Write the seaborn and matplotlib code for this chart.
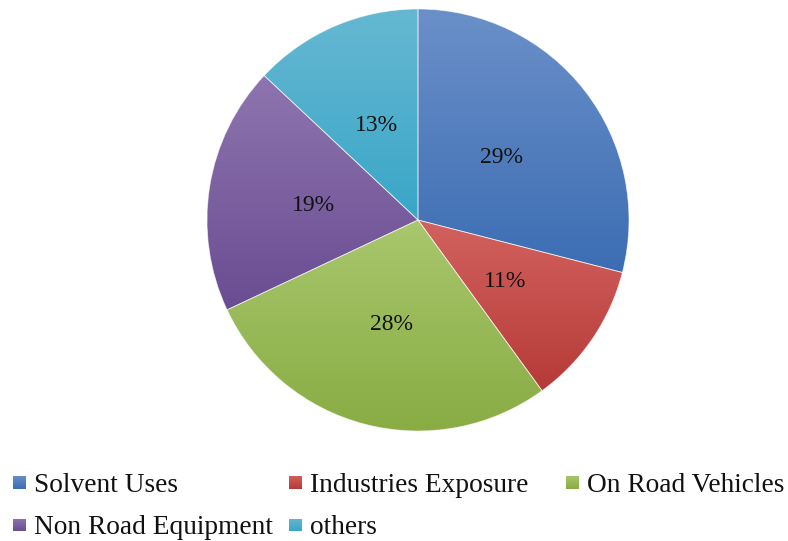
import numpy as np
import matplotlib
matplotlib.use("Agg")
import matplotlib.pyplot as plt
from matplotlib.colors import LinearSegmentedColormap
import seaborn as sns

categories = ["Solvent Uses", "Industries Exposure", "On Road Vehicles",
              "Non Road Equipment", "others"]
shares = [29, 11, 28, 19, 13]
top_colors = ["#6b90c9", "#d2625f", "#a9c76d", "#8e75af", "#66b8d2"]
bottom_colors = ["#3c6db3", "#b63a37", "#89ac44", "#6a4c92", "#39a6c8"]

sns.set_theme(style="white")
plt.rcParams["font.family"] = ["Liberation Serif", "DejaVu Serif"]

W, H, DPI = 788, 541, 100
fig = plt.figure(figsize=(W / DPI, H / DPI), dpi=DPI)
cx, cy, r = 418, 220, 211
ax = fig.add_axes([(cx - r) / W, (H - cy - r) / H, 2 * r / W, 2 * r / H])

wedges, texts = ax.pie(
    shares, startangle=90, counterclock=False, radius=1,
    labels=[f"{v}%" for v in shares], labeldistance=0.5,
    wedgeprops=dict(linewidth=0.6, edgecolor=(1, 1, 1, 0.6)),
    textprops=dict(fontsize=17, color="#111111", ha="center",
                   va="center_baseline"),
)
ax.set_xlim(-1, 1)
ax.set_ylim(-1, 1)
ax.set_aspect("equal")
ax.axis("off")

# vertical gradient fill inside each wedge
grad = np.linspace(1, 0, 256).reshape(-1, 1)
for w, c0, c1 in zip(wedges, top_colors, bottom_colors):
    path = w.get_path().transformed(w.get_patch_transform())
    ext = path.get_extents()
    cmap = LinearSegmentedColormap.from_list("g", [c1, c0])
    im = ax.imshow(grad, cmap=cmap, aspect="auto",
                   extent=[ext.x0, ext.x1, ext.y0, ext.y1],
                   origin="upper", zorder=w.get_zorder() - 0.1)
    im.set_clip_path(w)
    w.set_facecolor("none")
ax.set_xlim(-1, 1)
ax.set_ylim(-1, 1)

# legend laid out in three equal-width columns
col_x = [13, 289, 566]
row_y = [482, 525]
sq = 13
for i, (name, c0, c1) in enumerate(zip(categories, top_colors, bottom_colors)):
    row, col = divmod(i, 3)
    x, y = col_x[col], row_y[row]
    patch_ax = fig.add_axes([x / W, (H - y - sq / 2) / H, sq / W, sq / H])
    cmap = LinearSegmentedColormap.from_list("g", [c1, c0])
    patch_ax.imshow(grad, cmap=cmap, aspect="auto")
    patch_ax.axis("off")
    fig.text((x + sq + 8) / W, (H - y) / H, name, fontsize=19.7,
             ha="left", va="center_baseline", color="#111111")

fig.savefig("out.png", dpi=DPI)
